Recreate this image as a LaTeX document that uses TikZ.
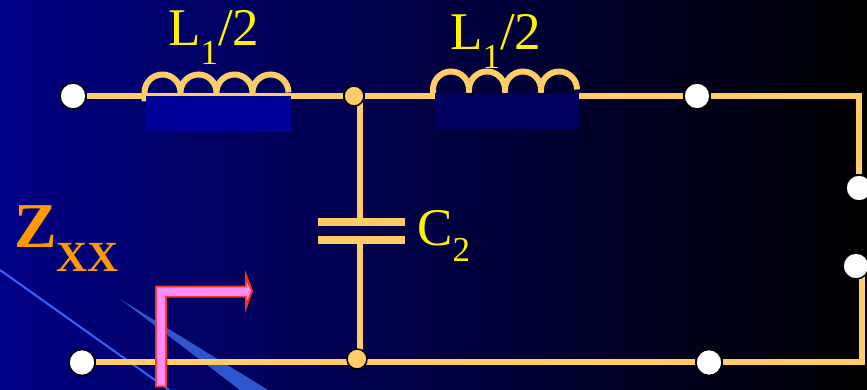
\documentclass[tikz,border=0pt]{standalone}
\usepackage{fontspec}
\setmainfont{Liberation Serif}
\usetikzlibrary{backgrounds}
\definecolor{wirecol}{RGB}{255,204,102}
\definecolor{bgleft}{RGB}{0,0,132}
\definecolor{coilA}{RGB}{0,0,150}
\definecolor{coilB}{RGB}{0,0,95}
\definecolor{streak}{RGB}{45,85,205}
\definecolor{streakline}{RGB}{50,100,255}
\definecolor{zcol}{RGB}{255,153,0}
\definecolor{arrowfill}{RGB}{255,140,255}
\definecolor{arrowline}{RGB}{255,50,30}
\newcommand{\fs}[1]{\fontsize{#1}{#1}\selectfont}
\newcommand{\lowered}[3]{\raisebox{-#1pt}{\fs{#2}#3}}
\tikzset{
    wire/.style={draw=wirecol, line width=6pt},
    terminal/.style={circle, fill=white, draw=black, line width=1.5pt, minimum size=26pt, inner sep=0pt},
    junction/.style={circle, fill=wirecol, draw=black, line width=1.5pt, minimum size=20pt, inner sep=0pt},
    plate/.style={fill=wirecol, minimum width=87pt, minimum height=8pt, inner sep=0pt},
    lbl/.style={anchor=base west, inner sep=0pt, text=yellow}
}
\begin{document}
\begin{tikzpicture}[x=1pt, y=1pt]
    \useasboundingbox (0,0) rectangle (867,390);
    \node[terminal] (ta) at (73,294) {};
    \node[junction] (jt) at (354,294) {};
    \node[terminal] (tb) at (697,294) {};
    \node[terminal] (tc) at (859,202) {};
    \node[terminal] (td) at (856,124) {};
    \node[terminal] (te) at (709,27.5) {};
    \node[junction] (jb) at (357,31) {};
    \node[terminal] (tf) at (82,27.5) {};
    \node[plate] (capA) at (361.5,168) {};
    \node[plate] (capB) at (361.5,150) {};
    \coordinate (crT) at (859,294);
    \coordinate (crB) at (862,27.5);
    \coordinate (capU) at (360,168);
    \coordinate (capL) at (360,150);
    \coordinate (coilL) at (144.5,297.5);
    \coordinate (coilR) at (433,300.5);
    \begin{scope}[on background layer]
        \shade[left color=bgleft, right color=black] (0,0) rectangle (867,390);
        \draw[streakline, line width=2pt] (0,120) -- (169,0);
        \fill[streak] (120,91) -- (268,0) -- (240,0) -- cycle;
        \draw[wire] (ta) -- (jt) -- (tb) -- (crT) -- (tc);
        \draw[wire] (td -| crB) -- (crB) -- (te) -- (jb.center |- te) -- (tf);
        \draw[wire] (capU) -- (capU |- jt);
        \draw[wire] (capL) -- (capL |- jb);
        \foreach \c in {coilL, coilR} {
            \draw[wire] (\c) ++(0,-9) -- ++(0,9) arc (180:0:18) arc (180:0:18) arc (180:0:18) arc (180:0:18);
        }
        \fill[coilA] (146,258) rectangle (291,294);
        \fill[coilB] (435,261) rectangle (579,297);
    \end{scope}
    \fill[arrowline] (155,2.5) -- (155,104.3) -- (245,104.3) -- (245,120) -- (253,99) -- (245,77) -- (245,92.3) -- (167,92.3) -- (167,2.5) -- cycle;
    \fill[arrowfill] (156.8,4.3) -- (156.8,102.5) -- (246.5,102.5) -- (246.5,108) -- (251,99) -- (246.5,89) -- (246.5,94.2) -- (165.2,94.2) -- (165.2,4.3) -- cycle;
    \node[lbl] (lblA) at (168,344) {\fs{53}L\lowered{19}{35}{1}/2};
    \node[lbl] (lblB) at (450,340) {\fs{53}L\lowered{19}{35}{1}/2};
    \node[lbl] (lblC) at (417,144) {\fs{53}C\lowered{16}{35}{2}};
    \node[lbl, text=zcol] (lblZ) at (14,142) {\bfseries\fs{64}Z\lowered{24}{43}{XX}};
\end{tikzpicture}
\end{document}
